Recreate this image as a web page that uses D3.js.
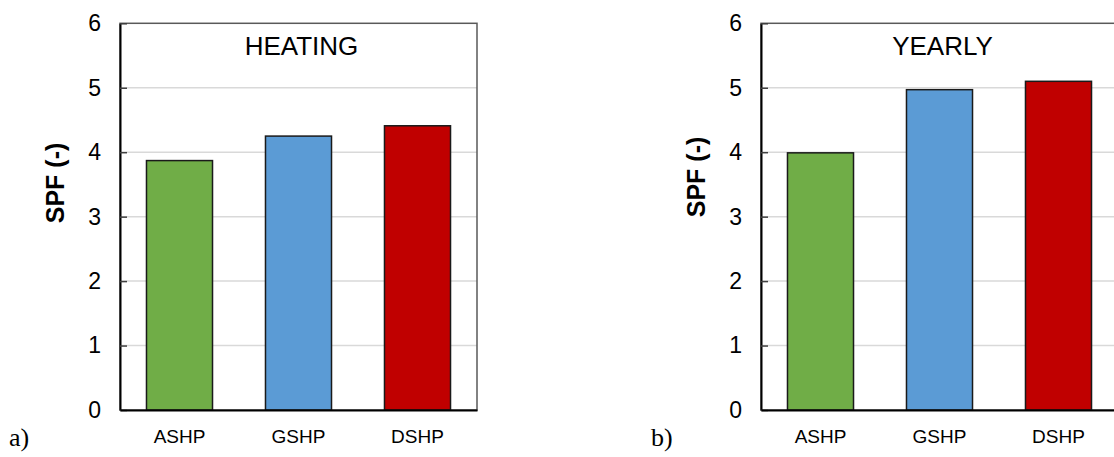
<!DOCTYPE html>
<html><head><meta charset="utf-8">
<script src="https://cdn.jsdelivr.net/npm/d3@7"></script>
<style>html,body{margin:0;padding:0;background:#fff;overflow:hidden}</style>
</head><body>
<svg id="chart" width="1114" height="457"></svg>
<script>
const categories = ["ASHP", "GSHP", "DSHP"];
const heatingValues = [3.87, 4.25, 4.41];
const yearlyValues = [3.99, 4.97, 5.10];
const barColors = ["#70AD47", "#5B9BD5", "#C00000"];
const yTicks = [0, 1, 2, 3, 4, 5, 6];
const panelTitles = ["HEATING", "YEARLY"];
const panelLetters = ["a)", "b)"];

const svg = d3.select("#chart");
const plotW = 357, plotTop = 23.3, plotBottom = 410;
const panels = [
  {left: 120, values: heatingValues, title: panelTitles[0], letter: panelLetters[0], letterX: 9, ylabY: 183},
  {left: 761, values: yearlyValues, title: panelTitles[1], letter: panelLetters[1], letterX: 651, ylabY: 177}
];

panels.forEach(p => {
  const g = svg.append("g");
  const x = d3.scaleBand().domain(categories).range([p.left, p.left + plotW])
    .paddingInner(0.445).paddingOuter(0.2225);
  const y = d3.scaleLinear().domain([0, 6]).range([plotBottom, plotTop]);

  g.selectAll("line.grid").data(yTicks.filter(t => t > 0 && t < 6)).join("line")
    .attr("class", "grid")
    .attr("x1", p.left).attr("x2", p.left + plotW)
    .attr("y1", d => y(d)).attr("y2", d => y(d))
    .attr("stroke", "#d9d9d9").attr("stroke-width", 1.5);

  g.append("rect").attr("x", p.left).attr("y", plotTop).attr("width", plotW).attr("height", plotBottom - plotTop)
    .attr("fill", "none").attr("stroke", "#595959").attr("stroke-width", 1.5);

  g.selectAll("rect.bar").data(categories).join("rect")
    .attr("class", "bar")
    .attr("x", d => x(d)).attr("width", x.bandwidth())
    .attr("y", (d, i) => y(p.values[i]))
    .attr("height", (d, i) => y(0) - y(p.values[i]))
    .attr("fill", (d, i) => barColors[i])
    .attr("stroke", "#1a1a1a").attr("stroke-width", 1.5);

  const ya = d3.axisLeft(y).tickValues(yTicks).tickFormat(d3.format("d"))
    .tickSizeInner(-7).tickSizeOuter(0).tickPadding(19);
  const yg = g.append("g").attr("transform", `translate(${p.left},0)`).call(ya);
  yg.select(".domain").attr("stroke", "#000").attr("stroke-width", 2);
  yg.selectAll(".tick line").attr("stroke", "#404040").attr("stroke-width", 1.5);
  yg.selectAll(".tick text").attr("font-family", "Arial, 'Liberation Sans', sans-serif")
    .attr("font-size", 23).attr("fill", "#000");

  const xa = d3.axisBottom(x).tickSize(0).tickPadding(20);
  const xg = g.append("g").attr("transform", `translate(0,${plotBottom})`).call(xa);
  xg.select(".domain").attr("stroke", "#000").attr("stroke-width", 2);
  xg.selectAll(".tick text").attr("font-family", "Arial, 'Liberation Sans', sans-serif")
    .attr("font-size", 19).attr("fill", "#000");

  g.append("text").attr("x", p.left + plotW / 2 + 3).attr("y", 55)
    .attr("text-anchor", "middle").attr("font-family", "Arial, 'Liberation Sans', sans-serif")
    .attr("font-size", 26).attr("fill", "#000").text(p.title);

  g.append("text").attr("transform", `translate(${p.left - 56},${p.ylabY}) rotate(-90)`)
    .attr("text-anchor", "middle")
    .attr("font-family", "Arial, 'Liberation Sans', sans-serif")
    .attr("font-weight", "bold").attr("font-size", 25).attr("fill", "#000").text("SPF (-)");

  g.append("text").attr("x", p.letterX).attr("y", 446)
    .attr("font-family", "'Times New Roman', 'Liberation Serif', serif")
    .attr("font-size", 26).attr("fill", "#000").text(p.letter);
});
</script>
</body></html>
